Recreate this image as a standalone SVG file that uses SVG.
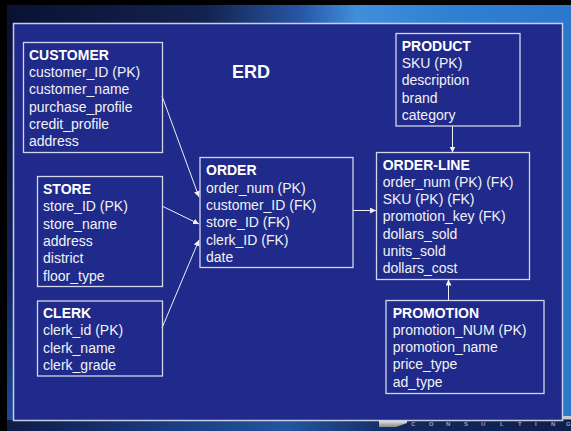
<svg xmlns="http://www.w3.org/2000/svg" width="571" height="431" viewBox="0 0 571 431">
  <defs>
    <linearGradient id="frameH" x1="0" y1="0" x2="1" y2="0">
      <stop offset="0" stop-color="#0a1233"/>
      <stop offset="0.35" stop-color="#13224e"/>
      <stop offset="0.52" stop-color="#2756a6"/>
      <stop offset="0.62" stop-color="#3f8fdb"/>
      <stop offset="0.8" stop-color="#2f7fd2"/>
      <stop offset="1" stop-color="#2a78cc"/>
    </linearGradient>
    <linearGradient id="bottomH" x1="0" y1="0" x2="1" y2="0">
      <stop offset="0" stop-color="#0f1c48"/>
      <stop offset="0.3" stop-color="#1a3d82"/>
      <stop offset="0.5" stop-color="#24559e"/>
      <stop offset="0.7" stop-color="#13285e"/>
      <stop offset="1" stop-color="#0f1f4e"/>
    </linearGradient>
    <linearGradient id="leftV" x1="0" y1="0" x2="0" y2="1">
      <stop offset="0" stop-color="#0a1233"/>
      <stop offset="0.6" stop-color="#0f2258"/>
      <stop offset="1" stop-color="#1d4c9e"/>
    </linearGradient>
    <linearGradient id="bar" x1="0" y1="0" x2="0" y2="1">
      <stop offset="0" stop-color="#e0e0e0"/>
      <stop offset="1" stop-color="#8a8a8a"/>
    </linearGradient>
    <marker id="arrow" markerUnits="userSpaceOnUse" markerWidth="7" markerHeight="6" refX="6" refY="3" orient="auto">
      <path d="M0,0 L6,3 L0,6 z" fill="#f0f0f8"/>
    </marker>
    <style>
      .box { fill: none; stroke: #d4d7ea; stroke-width: 1.3; }
      .title { font-family: "Liberation Sans", Arial, sans-serif; font-size: 14px; font-weight: bold; fill: #ffffff; }
      .attr { font-family: "Liberation Sans", Arial, sans-serif; font-size: 14px; fill: #f2f2f6; }
      .conn { stroke: #eef0f8; stroke-width: 1; fill: none; marker-end: url(#arrow); }
      .logo { font-family: "Liberation Sans", Arial, sans-serif; font-size: 6px; font-weight: bold; fill: #9aa0b0; }
    </style>
  </defs>

  <!-- background -->
  <rect x="0" y="0" width="571" height="431" fill="#000000"/>
  <rect x="7" y="5" width="564" height="426" fill="url(#frameH)"/>
  <rect x="7" y="23" width="7" height="408" fill="url(#leftV)"/>
  <rect x="7" y="420" width="564" height="11" fill="url(#bottomH)"/>
  <rect x="13.5" y="23.5" width="549" height="397" fill="#1f2a8a" stroke="#c9cde2" stroke-width="1.5"/>
  <rect x="562" y="416" width="9" height="3" fill="#c8c8d0"/>
  <polygon points="379,421 407,421 407,423 396,427 379,427" fill="url(#bar)"/>
  <text class="logo" y="426" x="411 429 446 464 481 500 518 535 551 566">CONSULTING</text>

  <text x="232" y="78" font-family="'Liberation Sans', Arial, sans-serif" font-size="18" font-weight="bold" fill="#ffffff">ERD</text>

  <!-- connectors -->
  <g id="connectors">
    <line class="conn" x1="162" y1="96" x2="199" y2="197"/>
    <line class="conn" x1="162" y1="206" x2="199" y2="224"/>
    <line class="conn" x1="162" y1="328" x2="199" y2="240"/>
    <line class="conn" x1="353" y1="210.5" x2="376" y2="210.5"/>
    <line class="conn" x1="452.5" y1="126" x2="452.5" y2="152.5"/>
    <line class="conn" x1="448.5" y1="300.5" x2="448.5" y2="279.5"/>
  </g>

  <g id="customer">
    <rect class="box" x="23.5" y="42.5" width="139" height="110"/>
    <text class="title" x="29" y="59.5">CUSTOMER</text>
    <text class="attr" x="29" y="77">customer_ID (PK)</text>
    <text class="attr" x="29" y="94.3">customer_name</text>
    <text class="attr" x="29" y="111.6">purchase_profile</text>
    <text class="attr" x="29" y="128.9">credit_profile</text>
    <text class="attr" x="29" y="146.2">address</text>
  </g>

  <g id="store">
    <rect class="box" x="37.5" y="176.5" width="125" height="110"/>
    <text class="title" x="43" y="194">STORE</text>
    <text class="attr" x="43" y="211.3">store_ID (PK)</text>
    <text class="attr" x="43" y="228.6">store_name</text>
    <text class="attr" x="43" y="245.9">address</text>
    <text class="attr" x="43" y="263.2">district</text>
    <text class="attr" x="43" y="280.5">floor_type</text>
  </g>

  <g id="clerk">
    <rect class="box" x="37.5" y="301" width="125" height="75"/>
    <text class="title" x="43" y="318">CLERK</text>
    <text class="attr" x="43" y="335.3">clerk_id (PK)</text>
    <text class="attr" x="43" y="352.6">clerk_name</text>
    <text class="attr" x="43" y="369.9">clerk_grade</text>
  </g>

  <g id="order">
    <rect class="box" x="200" y="157.5" width="153" height="110"/>
    <text class="title" x="206" y="175.3">ORDER</text>
    <text class="attr" x="206" y="192.6">order_num (PK)</text>
    <text class="attr" x="206" y="209.9">customer_ID (FK)</text>
    <text class="attr" x="206" y="227.2">store_ID (FK)</text>
    <text class="attr" x="206" y="244.5">clerk_ID (FK)</text>
    <text class="attr" x="206" y="261.8">date</text>
  </g>

  <g id="product">
    <rect class="box" x="396" y="33.5" width="124" height="92.5"/>
    <text class="title" x="401.7" y="50.7">PRODUCT</text>
    <text class="attr" x="401.7" y="68">SKU (PK)</text>
    <text class="attr" x="401.7" y="85.3">description</text>
    <text class="attr" x="401.7" y="102.6">brand</text>
    <text class="attr" x="401.7" y="119.9">category</text>
  </g>

  <g id="order-line">
    <rect class="box" x="376.5" y="152.5" width="153" height="127"/>
    <text class="title" x="382.7" y="169.5">ORDER-LINE</text>
    <text class="attr" x="382.7" y="186.8">order_num (PK) (FK)</text>
    <text class="attr" x="382.7" y="204.1">SKU (PK) (FK)</text>
    <text class="attr" x="382.7" y="221.4">promotion_key (FK)</text>
    <text class="attr" x="382.7" y="238.7">dollars_sold</text>
    <text class="attr" x="382.7" y="256">units_sold</text>
    <text class="attr" x="382.7" y="273.3">dollars_cost</text>
  </g>

  <g id="promotion">
    <rect class="box" x="386" y="300.5" width="158" height="93"/>
    <text class="title" x="392.7" y="317.5">PROMOTION</text>
    <text class="attr" x="392.7" y="334.8">promotion_NUM (PK)</text>
    <text class="attr" x="392.7" y="352.1">promotion_name</text>
    <text class="attr" x="392.7" y="369.4">price_type</text>
    <text class="attr" x="392.7" y="386.7">ad_type</text>
  </g>
</svg>
